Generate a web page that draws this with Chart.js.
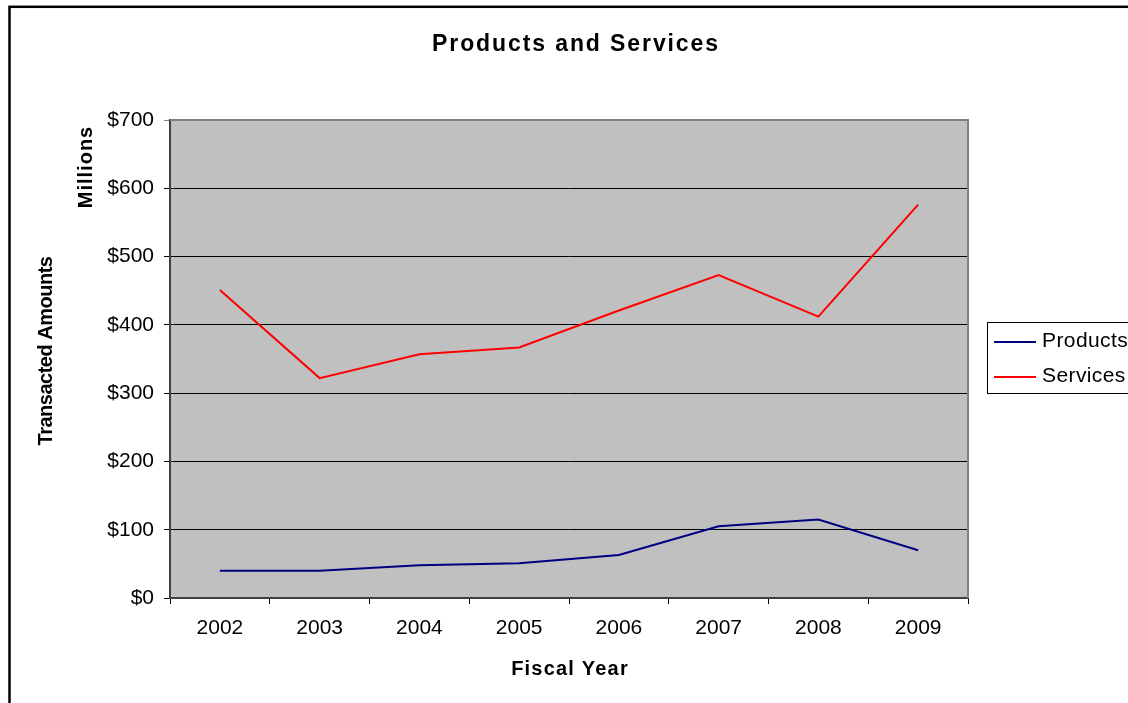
<!DOCTYPE html>
<html>
<head>
<meta charset="utf-8">
<title>Products and Services</title>
<script src="https://cdn.jsdelivr.net/npm/chart.js@4.4.1/dist/chart.umd.min.js"></script>
<style>
  html, body { margin: 0; padding: 0; background: #fff; overflow: hidden; }
  #wrap { width: 1128px; height: 703px; position: relative; }
</style>
</head>
<body>
<div id="wrap"><canvas id="chart"></canvas></div>
<script>
// ── DATA ──
const years    = ['2002', '2003', '2004', '2005', '2006', '2007', '2008', '2009'];
const products = [40, 40, 48, 51, 63, 105, 115, 70];
const services = [451, 322, 357, 367, 421, 473, 412, 576];
const yTickValues = [0, 100, 200, 300, 400, 500, 600, 700];

const FONT = "'Liberation Sans', Arial, sans-serif";

// ── EXTRA DRAWING: plot fill, borders, titles, boxed legend ──
const excelLook = {
    id: 'excelLook',
    beforeDraw(chart) {
        const { ctx, chartArea: a } = chart;
        ctx.save();
        ctx.fillStyle = '#fff';
        ctx.fillRect(0, 0, chart.width, chart.height);
        ctx.fillStyle = '#c0c0c0';
        ctx.fillRect(a.left, a.top, a.right - a.left, a.bottom - a.top);
        ctx.restore();
    },
    afterDraw(chart) {
        const { ctx, chartArea: a } = chart;
        ctx.save();

        // plot area frame (top + right)
        ctx.strokeStyle = '#808080';
        ctx.lineWidth = 2;
        ctx.beginPath();
        ctx.moveTo(a.left, a.top);
        ctx.lineTo(a.right, a.top);
        ctx.lineTo(a.right, a.bottom);
        ctx.stroke();

        // outer chart border
        ctx.strokeStyle = '#000';
        ctx.lineWidth = 2.5;
        ctx.strokeRect(9.5, 6.8, 1300, 900);

        ctx.fillStyle = '#000';
        ctx.textAlign = 'center';
        ctx.textBaseline = 'middle';

        // chart title
        ctx.font = 'bold 23px ' + FONT;
        ctx.letterSpacing = '1.9px';
        ctx.fillText('Products and Services', 576, 45);

        // x axis title
        ctx.font = 'bold 20px ' + FONT;
        ctx.letterSpacing = '1.2px';
        ctx.fillText('Fiscal Year', 570, 669);

        // y axis titles
        ctx.save();
        ctx.translate(46, 351);
        ctx.rotate(-Math.PI / 2);
        ctx.letterSpacing = '-0.5px';
        ctx.font = 'bold 20px ' + FONT;
        ctx.fillText('Transacted Amounts', 0, 0);
        ctx.restore();

        ctx.save();
        ctx.translate(86, 167);
        ctx.rotate(-Math.PI / 2);
        ctx.letterSpacing = '1px';
        ctx.font = 'bold 20px ' + FONT;
        ctx.fillText('Millions', 0, 0);
        ctx.restore();

        // legend box
        ctx.letterSpacing = '0.4px';
        ctx.strokeStyle = '#000';
        ctx.lineWidth = 1;
        ctx.strokeRect(987.5, 322.5, 200, 71);
        ctx.font = '21px ' + FONT;
        ctx.textAlign = 'left';
        chart.data.datasets.forEach((ds, i) => {
            const y = 342 + i * 35;
            ctx.strokeStyle = ds.borderColor;
            ctx.lineWidth = 2;
            ctx.beginPath();
            ctx.moveTo(994, y);
            ctx.lineTo(1036, y);
            ctx.stroke();
            ctx.fillStyle = '#000';
            ctx.fillText(ds.label, 1042, y - 1);
        });

        ctx.restore();
    }
};

new Chart(document.getElementById('chart'), {
    type: 'line',
    data: {
        labels: years,
        datasets: [
            {
                label: 'Products',
                data: products,
                borderColor: '#000080',
                borderWidth: 2,
                pointRadius: 0,
                tension: 0,
                fill: false
            },
            {
                label: 'Services',
                data: services,
                borderColor: '#ff0000',
                borderWidth: 2,
                pointRadius: 0,
                tension: 0,
                fill: false
            }
        ]
    },
    options: {
        responsive: true,
        maintainAspectRatio: false,
        animation: false,
        layout: { padding: { top: 120, right: 160, left: 0, bottom: 0 } },
        plugins: {
            legend: { display: false },
            title: { display: false },
            tooltip: { enabled: false }
        },
        scales: {
            x: {
                offset: true,
                grid: {
                    offset: true,
                    drawOnChartArea: false,
                    drawTicks: true,
                    tickLength: 6,
                    color: '#000'
                },
                border: { color: '#404040', width: 2 },
                ticks: {
                    color: '#000',
                    padding: 12,
                    maxRotation: 0,
                    font: { family: FONT, size: 21 }
                },
                afterFit: s => { s.height = 105; }
            },
            y: {
                min: 0,
                max: 700,
                afterBuildTicks: s => { s.ticks = yTickValues.map(v => ({ value: v })); },
                grid: {
                    color: c => (c.tick && c.tick.value === 700 ? '#808080' : '#000'),
                    lineWidth: 1,
                    tickLength: 6
                },
                border: { color: '#404040', width: 2 },
                ticks: {
                    color: '#000',
                    padding: 10,
                    font: { family: FONT, size: 21 },
                    callback: v => '$' + v
                },
                afterFit: s => { s.width = 170; }
            }
        }
    },
    plugins: [excelLook]
});
</script>
</body>
</html>
